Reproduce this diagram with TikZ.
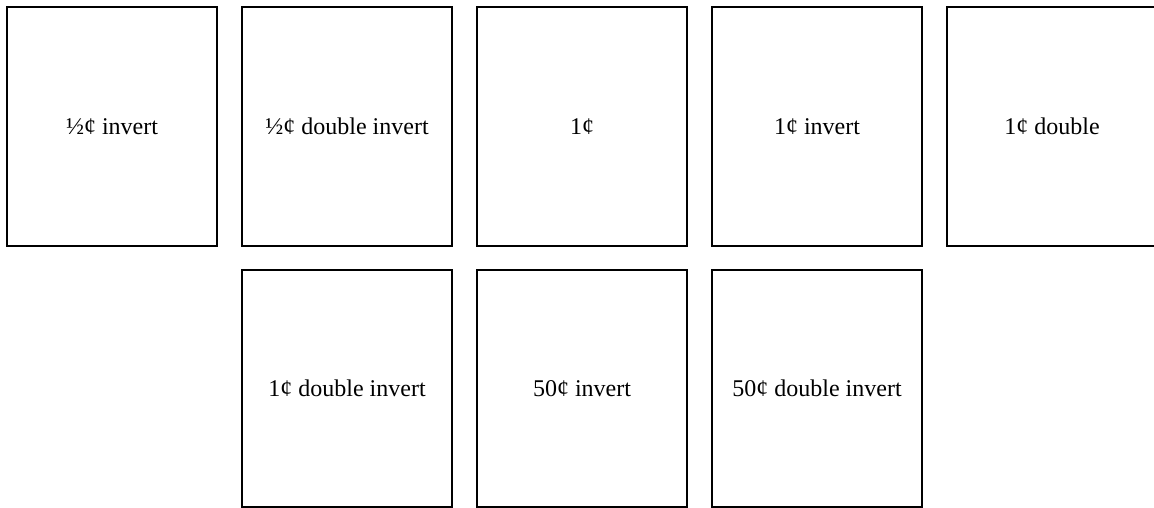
\documentclass[tikz,border=0pt]{standalone}
\usepackage{fontspec}
\setmainfont{Liberation Serif}
\begin{document}
\begin{tikzpicture}[x=1pt,y=-1pt,
  card/.style={draw=black, line width=2pt, minimum width=210pt, inner sep=0pt, font=\fontsize{24}{28}\selectfont},
  toprow/.style={card, minimum height=239pt},
  botrow/.style={card, minimum height=237pt}]
\clip (0,0) rectangle (1154,508);
\node[toprow] (a) at (112,126.5) {½¢ invert};
\node[toprow] (b) at (347,126.5) {½¢ double invert};
\node[toprow] (c) at (582,126.5) {1¢};
\node[toprow] (d) at (817,126.5) {1¢ invert};
\node[toprow] (e) at (1052,126.5) {1¢ double};
\node[botrow] (f) at (347,388.5) {1¢ double invert};
\node[botrow] (g) at (582,388.5) {50¢ invert};
\node[botrow] (h) at (817,388.5) {50¢ double invert};
\end{tikzpicture}
\end{document}
